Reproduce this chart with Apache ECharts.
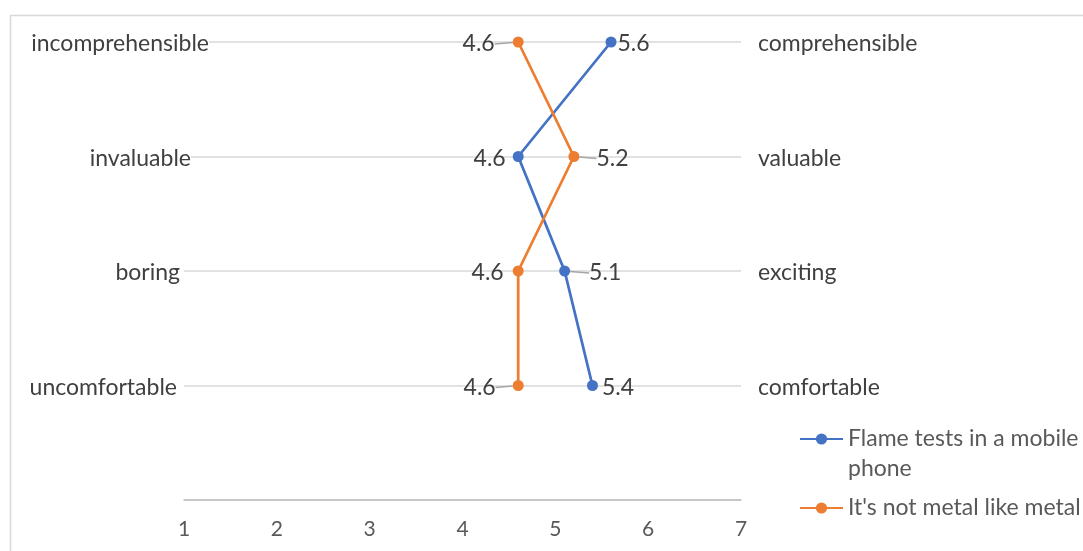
<!DOCTYPE html>
<html>
<head>
<meta charset="utf-8">
<script src="https://cdn.jsdelivr.net/npm/echarts@6/dist/echarts.min.js"></script>
<style>
  html, body { margin: 0; padding: 0; background: #fff; }
  #chart { width: 1083px; height: 551px; }
</style>
</head>
<body>
<div id="chart"></div>
<script>
// Semantic differential rows, top to bottom
const leftTerms = ['incomprehensible', 'invaluable', 'boring', 'uncomfortable'];
const rightTerms = ['comprehensible', 'valuable', 'exciting', 'comfortable'];
const seriesNames = ['Flame tests in a mobile phone', "It's not metal like metal"];
const flameValues = [5.6, 4.6, 5.1, 5.4];
const metalValues = [4.6, 5.2, 4.6, 4.6];
const xTicks = [1, 2, 3, 4, 5, 6, 7];

const FONT = 'Lato';
const FS = 23;
const TEXT = '#404040';
const AXIS_TEXT = '#595959';
const GRID = '#d9d9d9';

const rowCount = leftTerms.length;
const rowValue = i => rowCount - i;          // top row sits highest
const termAt = (terms, v) => {
  const i = rowCount - v;
  return (v >= 1 && v <= rowCount && Number.isInteger(v)) ? terms[i] : '';
};

// label placement per point: side, gap, extra pull for leader-lined labels
const flameLabels = [
  { side: 'right', gap: 1, pull: 0 },
  { side: 'left', gap: 7, pull: 0 },
  { side: 'right', gap: 4, pull: 15 },
  { side: 'right', gap: 4, pull: 0 }
];
const metalLabels = [
  { side: 'left', gap: 4, pull: -14 },
  { side: 'right', gap: 4, pull: 13 },
  { side: 'left', gap: 9, pull: 0 },
  { side: 'left', gap: 4, pull: -13 }
];
// spacing after each left term so they sit as in the layout
const leftSpacer = [0, 18, 29, 32];

function buildData(values, labels) {
  return values.map((v, i) => ({
    value: [v, rowValue(i)],
    label: { position: labels[i].side, distance: labels[i].gap },
    labelLine: { show: labels[i].pull !== 0 }
  }));
}

const chart = echarts.init(document.getElementById('chart'), null, { renderer: 'canvas' });

const termStyle = { fontFamily: FONT, fontSize: FS, color: TEXT, backgroundColor: '#fff', padding: [4, 0, 0, 0] };
const leftRich = { t: termStyle };
leftSpacer.forEach((w, i) => { leftRich['s' + i] = { width: w }; });

chart.setOption({
  animation: false,
  textStyle: { fontFamily: FONT },
  color: ['#4472C4', '#ED7D31'],
  graphic: [{
    type: 'rect',
    shape: { x: 10.5, y: 15.5, width: 1090, height: 560 },
    style: { fill: 'none', stroke: GRID, lineWidth: 1.5 },
    silent: true
  }],
  grid: { left: 184, right: 342, top: 42, bottom: 51, containLabel: false },
  xAxis: {
    type: 'value',
    min: xTicks[0],
    max: xTicks[xTicks.length - 1],
    interval: 1,
    axisLine: { show: true, lineStyle: { color: '#bfbfbf', width: 1.5 } },
    axisTick: { show: false },
    splitLine: { show: false },
    axisLabel: { color: AXIS_TEXT, fontSize: 21, fontFamily: FONT, margin: 19 }
  },
  yAxis: [{
    type: 'value',
    min: 0,
    max: rowCount,
    interval: 1,
    axisLine: { show: false },
    axisTick: { show: false },
    splitLine: { show: true, lineStyle: { color: GRID, width: 1.5 } },
    axisLabel: {
      align: 'right',
      margin: -25,
      formatter: v => {
        const t = termAt(leftTerms, v);
        if (!t) return '';
        const i = rowCount - v;
        return '{t|' + t + '}{s' + i + '|}';
      },
      rich: leftRich
    }
  }, {
    type: 'value',
    position: 'right',
    min: 0,
    max: rowCount,
    interval: 1,
    axisLine: { show: false },
    axisTick: { show: false },
    splitLine: { show: false },
    axisLabel: {
      align: 'left',
      margin: 17,
      formatter: v => {
        const t = termAt(rightTerms, v);
        return t ? '{t|' + t + '}' : '';
      },
      rich: { t: termStyle }
    }
  }],
  legend: {
    orient: 'vertical',
    left: 794,
    top: 389,
    itemWidth: 43,
    itemHeight: 14,
    itemGap: 9,
    // the wrapped first entry keeps its marker beside its first line
    formatter: name => (name === seriesNames[0] ? '\n' : '') + name,
    textStyle: {
      color: AXIS_TEXT, fontSize: FS, fontFamily: FONT,
      width: 238, overflow: 'break', lineHeight: 30
    },
    data: seriesNames
  },
  series: [
    { name: seriesNames[0], values: flameValues, labels: flameLabels },
    { name: seriesNames[1], values: metalValues, labels: metalLabels }
  ].map(s => ({
    name: s.name,
    type: 'line',
    yAxisIndex: 0,
    symbol: 'circle',
    symbolSize: 11,
    lineStyle: { width: 2.75 },
    data: buildData(s.values, s.labels),
    label: {
      show: true,
      formatter: p => '{v|' + p.value[0].toFixed(1) + '}',
      rich: { v: { color: TEXT, fontSize: FS, fontFamily: FONT, padding: [4, 0, 0, 0] } }
    },
    labelLine: {
      showAbove: false,
      lineStyle: { color: '#a6a6a6', width: 1.5 }
    },
    labelLayout: p => {
      const dx = s.labels[p.dataIndex].pull;
      return dx ? { dx: dx } : {};
    }
  }))
});
</script>
</body>
</html>
